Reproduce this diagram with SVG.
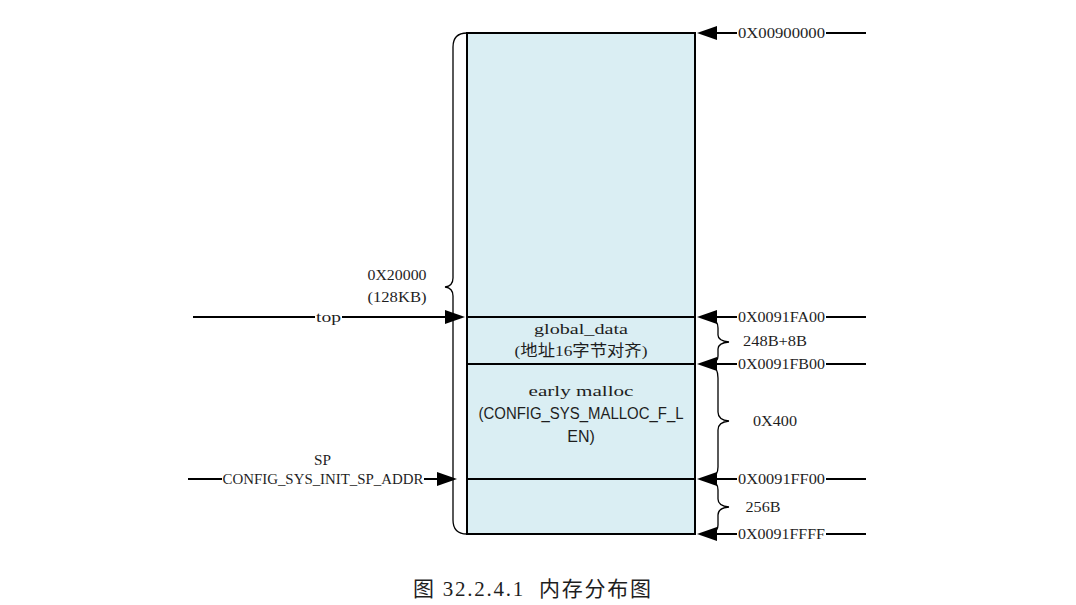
<svg xmlns="http://www.w3.org/2000/svg" width="1076" height="605" viewBox="0 0 1076 605">
<style>
.m{font-family:"Liberation Serif","Noto Sans CJK SC",serif;font-size:15.5px;fill:#1e1e1e}
.s{font-family:"Liberation Sans","Noto Sans CJK SC",sans-serif;font-size:16px;fill:#1e1e1e}
.cap{font-family:"Liberation Serif","Noto Sans CJK SC",serif;font-size:21px;fill:#1e1e1e}
.ln{stroke:#000;stroke-width:2;fill:none}
.br{stroke:#000;stroke-width:1.3;fill:none}
.blk{fill:#DAEEF3;stroke:#000;stroke-width:2}
</style>
<defs>
<marker id="ah" viewBox="0 0 20 14" refX="0" refY="7" markerWidth="20" markerHeight="14" markerUnits="userSpaceOnUse" orient="auto">
<path d="M0,0 L20,7 L0,14 Z" fill="#000"/>
</marker>
</defs>
<rect width="1076" height="605" fill="#fff"/>

<g id="mem-free">
<rect class="blk" x="467" y="33" width="228" height="284"/>
</g>
<g id="mem-global-data">
<rect class="blk" x="467" y="317" width="228" height="47"/>
<text class="m" x="581" y="334" text-anchor="middle" textLength="94" lengthAdjust="spacingAndGlyphs">global_data</text>
<text class="m" x="581" y="356" text-anchor="middle" textLength="133" lengthAdjust="spacingAndGlyphs">(地址16字节对齐)</text>
</g>
<g id="mem-early-malloc">
<rect class="blk" x="467" y="364" width="228" height="115"/>
<text class="m" x="581" y="396" text-anchor="middle" textLength="105" lengthAdjust="spacingAndGlyphs">early malloc</text>
<text class="s" x="581" y="419" text-anchor="middle" textLength="205" lengthAdjust="spacingAndGlyphs">(CONFIG_SYS_MALLOC_F_L</text>
<text class="s" x="581" y="442" text-anchor="middle">EN)</text>
</g>
<g id="mem-stack">
<rect class="blk" x="467" y="479" width="228" height="55"/>
</g>

<g id="brace-left">
<path class="br" d="M467,33 Q453,33 453,47 L453,278 Q453,286 445,287 Q453,288 453,296 L453,520 Q453,534 467,534"/>
<text class="m" x="397" y="280" text-anchor="middle" textLength="59" lengthAdjust="spacingAndGlyphs">0X20000</text>
<text class="m" x="397" y="302" text-anchor="middle" textLength="59" lengthAdjust="spacingAndGlyphs">(128KB)</text>
</g>
<g id="brace-global">
<path class="br" d="M711,318 Q718,320 718,328 L718,335 Q718,341 729,342 Q718,343 718,349 L718,356 Q718,362 711,364"/>
<text class="m" x="775" y="346" text-anchor="middle" textLength="64" lengthAdjust="spacingAndGlyphs">248B+8B</text>
</g>
<g id="brace-malloc">
<path class="br" d="M711,365 Q718,367 718,378 L718,412 Q718,420 729,421 Q718,422 718,430 L718,467 Q718,476 711,478"/>
<text class="m" x="775" y="426" text-anchor="middle" textLength="44" lengthAdjust="spacingAndGlyphs">0X400</text>
</g>
<g id="brace-stack">
<path class="br" d="M711,480 Q718,482 718,490 L718,499 Q718,506 729,507 Q718,508 718,515 L718,525 Q718,532 711,534"/>
<text class="m" x="763" y="512" text-anchor="middle" textLength="35" lengthAdjust="spacingAndGlyphs">256B</text>
</g>

<g id="connectors">
<line class="ln" x1="737" y1="33" x2="717" y2="33" marker-end="url(#ah)"/>
<line class="ln" x1="826" y1="33" x2="866" y2="33"/>
<line class="ln" x1="737" y1="317" x2="717" y2="317" marker-end="url(#ah)"/>
<line class="ln" x1="826" y1="317" x2="866" y2="317"/>
<line class="ln" x1="737" y1="364" x2="717" y2="364" marker-end="url(#ah)"/>
<line class="ln" x1="826" y1="364" x2="866" y2="364"/>
<line class="ln" x1="737" y1="479" x2="717" y2="479" marker-end="url(#ah)"/>
<line class="ln" x1="826" y1="479" x2="866" y2="479"/>
<line class="ln" x1="737" y1="534" x2="717" y2="534" marker-end="url(#ah)"/>
<line class="ln" x1="826" y1="534" x2="866" y2="534"/>
<line class="ln" x1="193" y1="317" x2="315" y2="317"/>
<line class="ln" x1="342" y1="317" x2="445" y2="317" marker-end="url(#ah)"/>
<line class="ln" x1="188" y1="479" x2="222" y2="479"/>
<line class="ln" x1="424" y1="479" x2="437" y2="479" marker-end="url(#ah)"/>
</g>

<g id="labels">
<text class="m" x="781.5" y="38" text-anchor="middle" textLength="87" lengthAdjust="spacingAndGlyphs">0X00900000</text>
<text class="m" x="781.5" y="322" text-anchor="middle" textLength="87" lengthAdjust="spacingAndGlyphs">0X0091FA00</text>
<text class="m" x="781.5" y="369" text-anchor="middle" textLength="87" lengthAdjust="spacingAndGlyphs">0X0091FB00</text>
<text class="m" x="781.5" y="484" text-anchor="middle" textLength="87" lengthAdjust="spacingAndGlyphs">0X0091FF00</text>
<text class="m" x="781.5" y="539" text-anchor="middle" textLength="87" lengthAdjust="spacingAndGlyphs">0X0091FFFF</text>
<text class="m" x="328.5" y="322" text-anchor="middle" textLength="25" lengthAdjust="spacingAndGlyphs">top</text>
<text class="m" x="322.5" y="465" text-anchor="middle" textLength="17" lengthAdjust="spacingAndGlyphs">SP</text>
<text class="m" x="323" y="484" text-anchor="middle" textLength="201" lengthAdjust="spacingAndGlyphs">CONFIG_SYS_INIT_SP_ADDR</text>
</g>

<g id="caption">
<text class="cap" x="413" y="596" textLength="238" lengthAdjust="spacing" xml:space="preserve">图 32.2.4.1  内存分布图</text>
</g>
</svg>
